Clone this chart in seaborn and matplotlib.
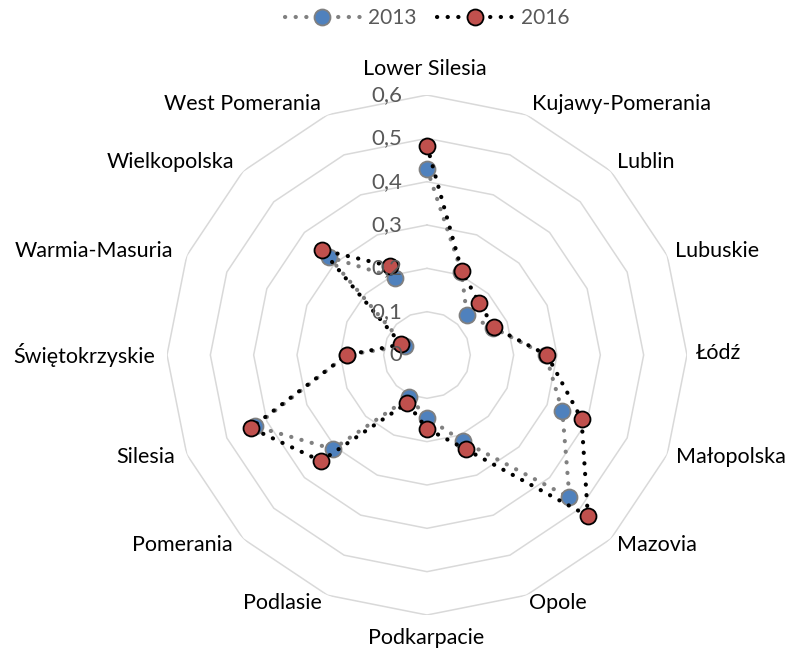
import numpy as np
import pandas as pd
import matplotlib
matplotlib.use("Agg")
import matplotlib.pyplot as plt
import matplotlib.transforms as mtransforms
import seaborn as sns

# Regions, clockwise from the top
regions = [
    "Lower Silesia", "Kujawy-Pomerania", "Lublin", "Lubuskie", "Łódź",
    "Małopolska", "Mazovia", "Opole", "Podkarpacie", "Podlasie",
    "Pomerania", "Silesia", "Świętokrzyskie", "Warmia-Masuria",
    "Wielkopolska", "West Pomerania",
]
vals_2013 = [0.430, 0.208, 0.130, 0.165, 0.274, 0.338, 0.465, 0.215,
             0.145, 0.106, 0.307, 0.430, 0.185, 0.055, 0.320, 0.193]
vals_2016 = [0.483, 0.210, 0.170, 0.167, 0.277, 0.386, 0.525, 0.236,
             0.170, 0.120, 0.346, 0.440, 0.185, 0.064, 0.343, 0.222]
ring_levels = [0.0, 0.1, 0.2, 0.3, 0.4, 0.5, 0.6]
ring_labels = ["0", "0,1", "0,2", "0,3", "0,4", "0,5", "0,6"]

# label centres in figure pixels (Excel places them a bit irregularly)
label_px = [
    (425, 69), (621, 104), (646, 162), (717, 251), (718, 353),
    (731, 457), (657, 545), (558, 603), (426, 638), (282, 603),
    (182, 545), (146, 457), (84, 355), (94, 251), (170, 162), (242, 104),
]

sns.set_style("white")
plt.rcParams["font.family"] = ["Lato", "DejaVu Sans"]

W, H = 790, 652
fig = plt.figure(figsize=(W / 100, H / 100), dpi=100)
cx, cy, R = 427, 355, 260
ax = fig.add_axes([(cx - R) / W, (H - cy - R) / H, 2 * R / W, 2 * R / H],
                  projection="polar")
ax.set_theta_zero_location("N")
ax.set_theta_direction(-1)

n = len(regions)
theta = np.linspace(0, 2 * np.pi, n, endpoint=False)
theta_c = np.append(theta, theta[0])

# polygon grid
for lev in ring_levels[1:]:
    ax.plot(theta_c, [lev] * (n + 1), color="#d9d9d9", lw=1.1, zorder=0)

df = pd.DataFrame({
    "theta": np.concatenate([theta_c, theta_c]),
    "value": vals_2013 + vals_2013[:1] + vals_2016 + vals_2016[:1],
    "year": ["2013"] * (n + 1) + ["2016"] * (n + 1),
})

dots = (0, (0.05, 2.5))
sns.lineplot(data=df[df["year"] == "2013"], x="theta", y="value", ax=ax,
             sort=False, color="#808080", lw=3.0, linestyle=dots,
             dash_capstyle="round", marker="o", markersize=11.5,
             markerfacecolor="#4f81bd", markeredgecolor="#808080",
             markeredgewidth=1.3, label="2013", zorder=3)
sns.lineplot(data=df[df["year"] == "2016"], x="theta", y="value", ax=ax,
             sort=False, color="black", lw=3.0, linestyle=dots,
             dash_capstyle="round", marker="o", markersize=11.5,
             markerfacecolor="#c0504d", markeredgecolor="black",
             markeredgewidth=1.3, label="2016", zorder=4)

ax.set_ylim(0, 0.6)
ax.grid(False)
ax.spines["polar"].set_visible(False)
ax.set_xticks([])
ax.set_yticks([])
ax.set_xlabel("")
ax.set_ylabel("")

# radial value labels along the top axis
off = mtransforms.offset_copy(ax.transData, fig=fig, x=-25, y=0, units="dots")
for lev, lab in zip(ring_levels, ring_labels):
    ax.text(0, lev, lab, transform=off, ha="right", va="center",
            fontsize=16, color="#595959", zorder=6)

for name, (px, py) in zip(regions, label_px):
    fig.text(px / W, 1 - py / H, name, ha="center", va="center",
             fontsize=15.5, color="black")

handles, labels = ax.get_legend_handles_labels()
if ax.get_legend() is not None:
    ax.get_legend().remove()
fig.legend(handles, labels, loc="center", bbox_to_anchor=(427 / W, 1 - 18 / H),
           ncol=2, frameon=False, handlelength=3.6, columnspacing=1.0,
           handletextpad=0.4, prop={"size": 15}, labelcolor="#595959")

fig.savefig("out.png", dpi=100)
